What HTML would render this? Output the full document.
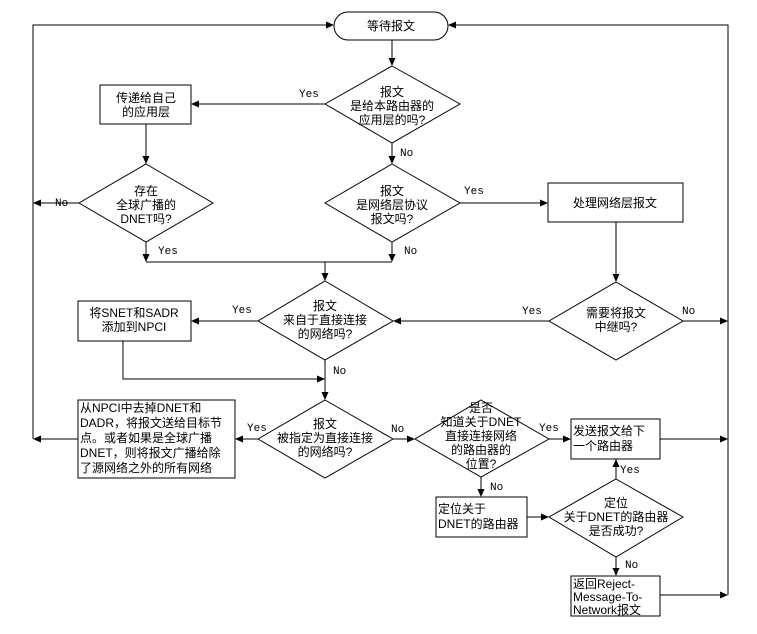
<!DOCTYPE html>
<html><head><meta charset="utf-8"><style>
html,body{margin:0;padding:0;background:#fff;}
svg{display:block;}
text{font-family:"Liberation Sans","Noto Sans CJK SC",sans-serif;font-size:12px;fill:#000;}
.l{font-family:"Liberation Mono","Noto Sans CJK SC",monospace;font-size:11px;}
</style></head><body>
<svg width="757" height="634" viewBox="0 0 757 634" xmlns="http://www.w3.org/2000/svg">
<defs><marker id="a" markerWidth="8" markerHeight="8" refX="7" refY="4" orient="auto" markerUnits="userSpaceOnUse"><path d="M0,0.5 L8,4 L0,7.5z" fill="#000"/></marker></defs>
<g fill="none" stroke="#000" stroke-width="1">
<!-- start -->
<rect x="334" y="12" width="114" height="28" rx="14" fill="#fff"/>
<!-- loops -->
<polyline points="33,439 33,25 333,25" marker-end="url(#a)"/>
<polyline points="728,595 728,25 449,25" marker-end="url(#a)"/>
<line x1="392" y1="40" x2="392" y2="65" marker-end="url(#a)"/>
<!-- D1 -->
<polygon points="392,66 460,104 392,143 325,104"/>
<line x1="325" y1="104" x2="192" y2="104" marker-end="url(#a)"/>
<rect x="100" y="85" width="91" height="39"/>
<line x1="146" y1="124" x2="146" y2="163" marker-end="url(#a)"/>
<line x1="392" y1="143" x2="392" y2="163" marker-end="url(#a)"/>
<!-- D2 -->
<polygon points="146,164 213,203 146,242 79,203"/>
<line x1="79" y1="203" x2="34" y2="203" marker-end="url(#a)"/>
<line x1="146" y1="242" x2="146" y2="261" marker-end="url(#a)"/>
<!-- D3 -->
<polygon points="392,164 460,203 392,242 325,203"/>
<line x1="392" y1="242" x2="392" y2="261" marker-end="url(#a)"/>
<line x1="146" y1="262" x2="392" y2="262"/>
<line x1="325" y1="262" x2="325" y2="280" marker-end="url(#a)"/>
<line x1="460" y1="203" x2="547" y2="203" marker-end="url(#a)"/>
<rect x="548" y="183" width="135" height="39"/>
<line x1="616" y1="222" x2="616" y2="281" marker-end="url(#a)"/>
<!-- D4 -->
<polygon points="616,282 683,321 616,360 549,321"/>
<line x1="683" y1="321" x2="727" y2="321" marker-end="url(#a)"/>
<line x1="549" y1="321" x2="394" y2="321" marker-end="url(#a)"/>
<!-- D5 -->
<polygon points="325,281 393,321 325,360 258,321"/>
<line x1="258" y1="321" x2="192" y2="321" marker-end="url(#a)"/>
<rect x="78" y="301" width="113" height="40"/>
<polyline points="123,341 123,379 324,379" marker-end="url(#a)"/>
<line x1="325" y1="360" x2="325" y2="399" marker-end="url(#a)"/>
<!-- D6 -->
<polygon points="325,400 393,439 325,478 258,439"/>
<line x1="258" y1="439" x2="236" y2="439" marker-end="url(#a)"/>
<rect x="78" y="400" width="157" height="78"/>
<line x1="78" y1="439" x2="34" y2="439" marker-end="url(#a)"/>
<line x1="393" y1="439" x2="414" y2="439" marker-end="url(#a)"/>
<!-- D7 -->
<polygon points="481,400 549,439 481,477 415,439"/>
<line x1="549" y1="439" x2="570" y2="439" marker-end="url(#a)"/>
<rect x="571" y="419" width="89" height="40"/>
<line x1="660" y1="439" x2="727" y2="439" marker-end="url(#a)"/>
<line x1="481" y1="477" x2="481" y2="496" marker-end="url(#a)"/>
<rect x="436" y="497" width="91" height="40"/>
<line x1="527" y1="517" x2="548" y2="517" marker-end="url(#a)"/>
<!-- D8 -->
<polygon points="616,479 683,517 616,557 549,517"/>
<line x1="616" y1="479" x2="616" y2="460" marker-end="url(#a)"/>
<line x1="616" y1="557" x2="616" y2="575" marker-end="url(#a)"/>
<rect x="571" y="576" width="89" height="40"/>
<line x1="660" y1="595" x2="727" y2="595" marker-end="url(#a)"/>
</g>
<g text-anchor="middle">
<text x="391" y="30">等待报文</text>
<text x="392" y="96">报文</text><text x="392" y="110">是给本路由器的</text><text x="392" y="124">应用层的吗?</text>
<text x="146" y="102">传递给自己</text><text x="146" y="116">的应用层</text>
<text x="146" y="195">存在</text><text x="146" y="209">全球广播的</text><text x="146" y="223">DNET吗?</text>
<text x="392" y="195">报文</text><text x="392" y="209">是网络层协议</text><text x="392" y="223">报文吗?</text>
<text x="615" y="207">处理网络层报文</text>
<text x="616" y="317">需要将报文</text><text x="616" y="331">中继吗?</text>
<text x="325" y="310">报文</text><text x="325" y="324">来自于直接连接</text><text x="325" y="338">的网络吗?</text>
<text x="134" y="317">将SNET和SADR</text><text x="134" y="331">添加到NPCI</text>
<text x="325" y="428">报文</text><text x="325" y="442">被指定为直接连接</text><text x="325" y="456">的网络吗?</text>
<text x="481" y="412">是否</text><text x="481" y="426">知道关于DNET</text><text x="481" y="440">直接连接网络</text><text x="481" y="454">的路由器的</text><text x="481" y="468">位置?</text>
<text x="616" y="507">定位</text><text x="616" y="521">关于DNET的路由器</text><text x="616" y="535">是否成功?</text>
</g>
<g>
<text x="80" y="412">从NPCI中去掉DNET和</text>
<text x="80" y="427">DADR，将报文送给目标节</text>
<text x="80" y="442">点。或者如果是全球广播</text>
<text x="80" y="457">DNET，则将报文广播给除</text>
<text x="80" y="472">了源网络之外的所有网络</text>
<text x="573" y="435">发送报文给下</text><text x="573" y="450">一个路由器</text>
<text x="438" y="513">定位关于</text><text x="438" y="528">DNET的路由器</text>
<text x="573" y="588">返回Reject-</text><text x="573" y="601">Message-To-</text><text x="573" y="614">Network报文</text>
</g>
<g class="l">
<text class="l" x="299" y="97">Yes</text>
<text class="l" x="400" y="156">No</text>
<text class="l" x="55" y="206">No</text>
<text class="l" x="158" y="254">Yes</text>
<text class="l" x="404" y="254">No</text>
<text class="l" x="464" y="194">Yes</text>
<text class="l" x="522" y="314">Yes</text>
<text class="l" x="682" y="314">No</text>
<text class="l" x="232" y="313">Yes</text>
<text class="l" x="333" y="374">No</text>
<text class="l" x="247" y="431">Yes</text>
<text class="l" x="391" y="432">No</text>
<text class="l" x="539" y="431">Yes</text>
<text class="l" x="490" y="490">No</text>
<text class="l" x="620" y="473">Yes</text>
<text class="l" x="625" y="568">No</text>
</g>
</svg>
</body></html>
